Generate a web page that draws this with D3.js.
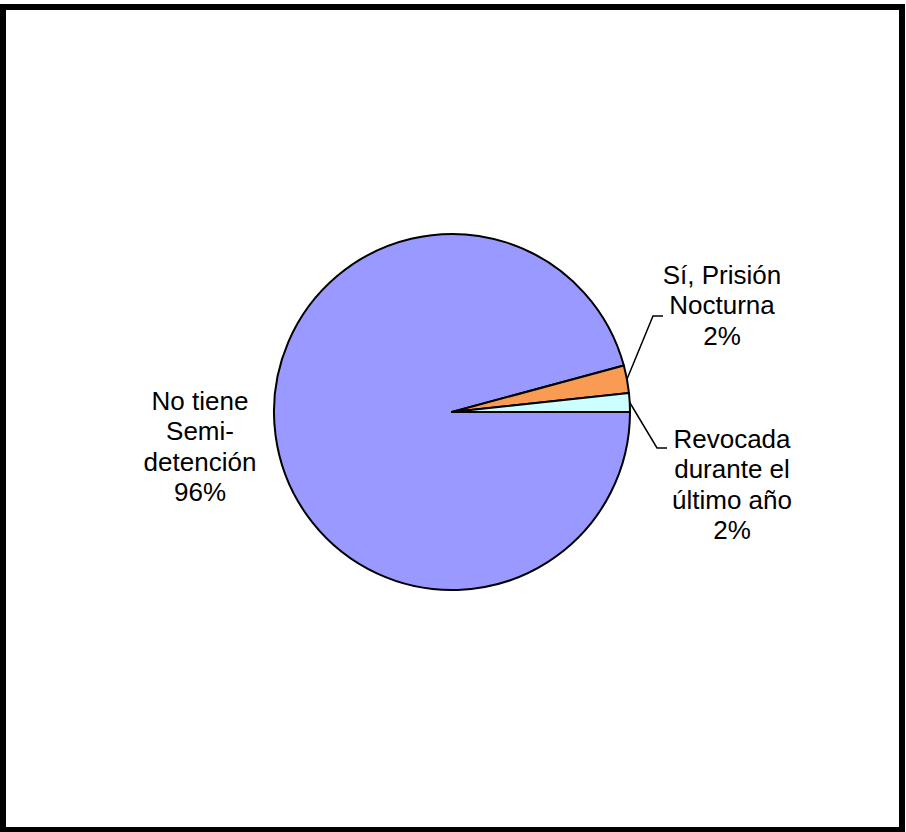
<!DOCTYPE html>
<html>
<head>
<meta charset="utf-8">
<script src="https://cdn.jsdelivr.net/npm/d3@7"></script>
<style>
  body { margin: 0; background: #fff; }
  svg { display: block; }
</style>
</head>
<body>
<div id="chart"></div>
<script>
'use strict';

// Slice data, in the order Excel draws them (clockwise from 3 o'clock)
const categories = ["No tiene Semi-detención", "Sí, Prisión Nocturna", "Revocada durante el último año"];
const shares = [95.8, 2.5, 1.7];
const pctLabels = ["96%", "2%", "2%"];
const labelLines = [
  ["No tiene", "Semi-", "detención"],
  ["Sí, Prisión", "Nocturna"],
  ["Revocada", "durante el", "último año"]
];
const sliceColors = ["#9999ff", "#f99b52", "#ccffff"];

const width = 906;
const height = 832;

const svg = d3.select("#chart").append("svg")
    .attr("width", width)
    .attr("height", height);

// outer frame
svg.append("rect")
    .attr("x", 3).attr("y", 7)
    .attr("width", 899).attr("height", 823)
    .attr("fill", "#fff")
    .attr("stroke", "#000")
    .attr("stroke-width", 6);

const cx = 452, cy = 412, r = 178;

const pie = d3.pie()
    .sort(null)
    .startAngle(Math.PI / 2)
    .endAngle(Math.PI / 2 + 2 * Math.PI);

const arcs = pie(shares);
const arc = d3.arc().innerRadius(0).outerRadius(r);

const g = svg.append("g").attr("transform", `translate(${cx},${cy})`);

g.selectAll("path.slice")
  .data(arcs)
  .join("path")
    .attr("class", "slice")
    .attr("d", arc)
    .attr("fill", (d, i) => sliceColors[i])
    .attr("stroke", "#000")
    .attr("stroke-width", 2)
    .attr("stroke-linejoin", "round");

// label placement (page coordinates) and leader line elbows
const labelPos = [
  {x: 200, y: 410, elbow: null},
  {x: 722, y: 284, elbow: [[653, 316], [663, 316]]},
  {x: 732, y: 448, elbow: [[657, 448], [667, 448]]}
];
const lineGap = 30.3;

// leader lines from the slice edge
arcs.forEach((d, i) => {
  const p = labelPos[i];
  if (!p.elbow) return;
  const mid = (d.startAngle + d.endAngle) / 2;
  const sx = cx + r * Math.sin(mid);
  const sy = cy - r * Math.cos(mid);
  const pts = [[sx, sy]].concat(p.elbow);
  svg.append("path")
      .attr("d", d3.line()(pts))
      .attr("fill", "none")
      .attr("stroke", "#000")
      .attr("stroke-width", 1.5);
});

// text labels
labelPos.forEach((p, i) => {
  const lines = labelLines[i].concat([pctLabels[i]]);
  const t = svg.append("text")
      .attr("text-anchor", "middle")
      .attr("font-family", "Liberation Sans, Arial, sans-serif")
      .attr("font-size", 26)
      .attr("fill", "#000");
  t.selectAll("tspan")
    .data(lines)
    .join("tspan")
      .attr("x", p.x)
      .attr("y", (s, j) => p.y + j * lineGap)
      .text(s => s);
});
</script>
</body>
</html>
